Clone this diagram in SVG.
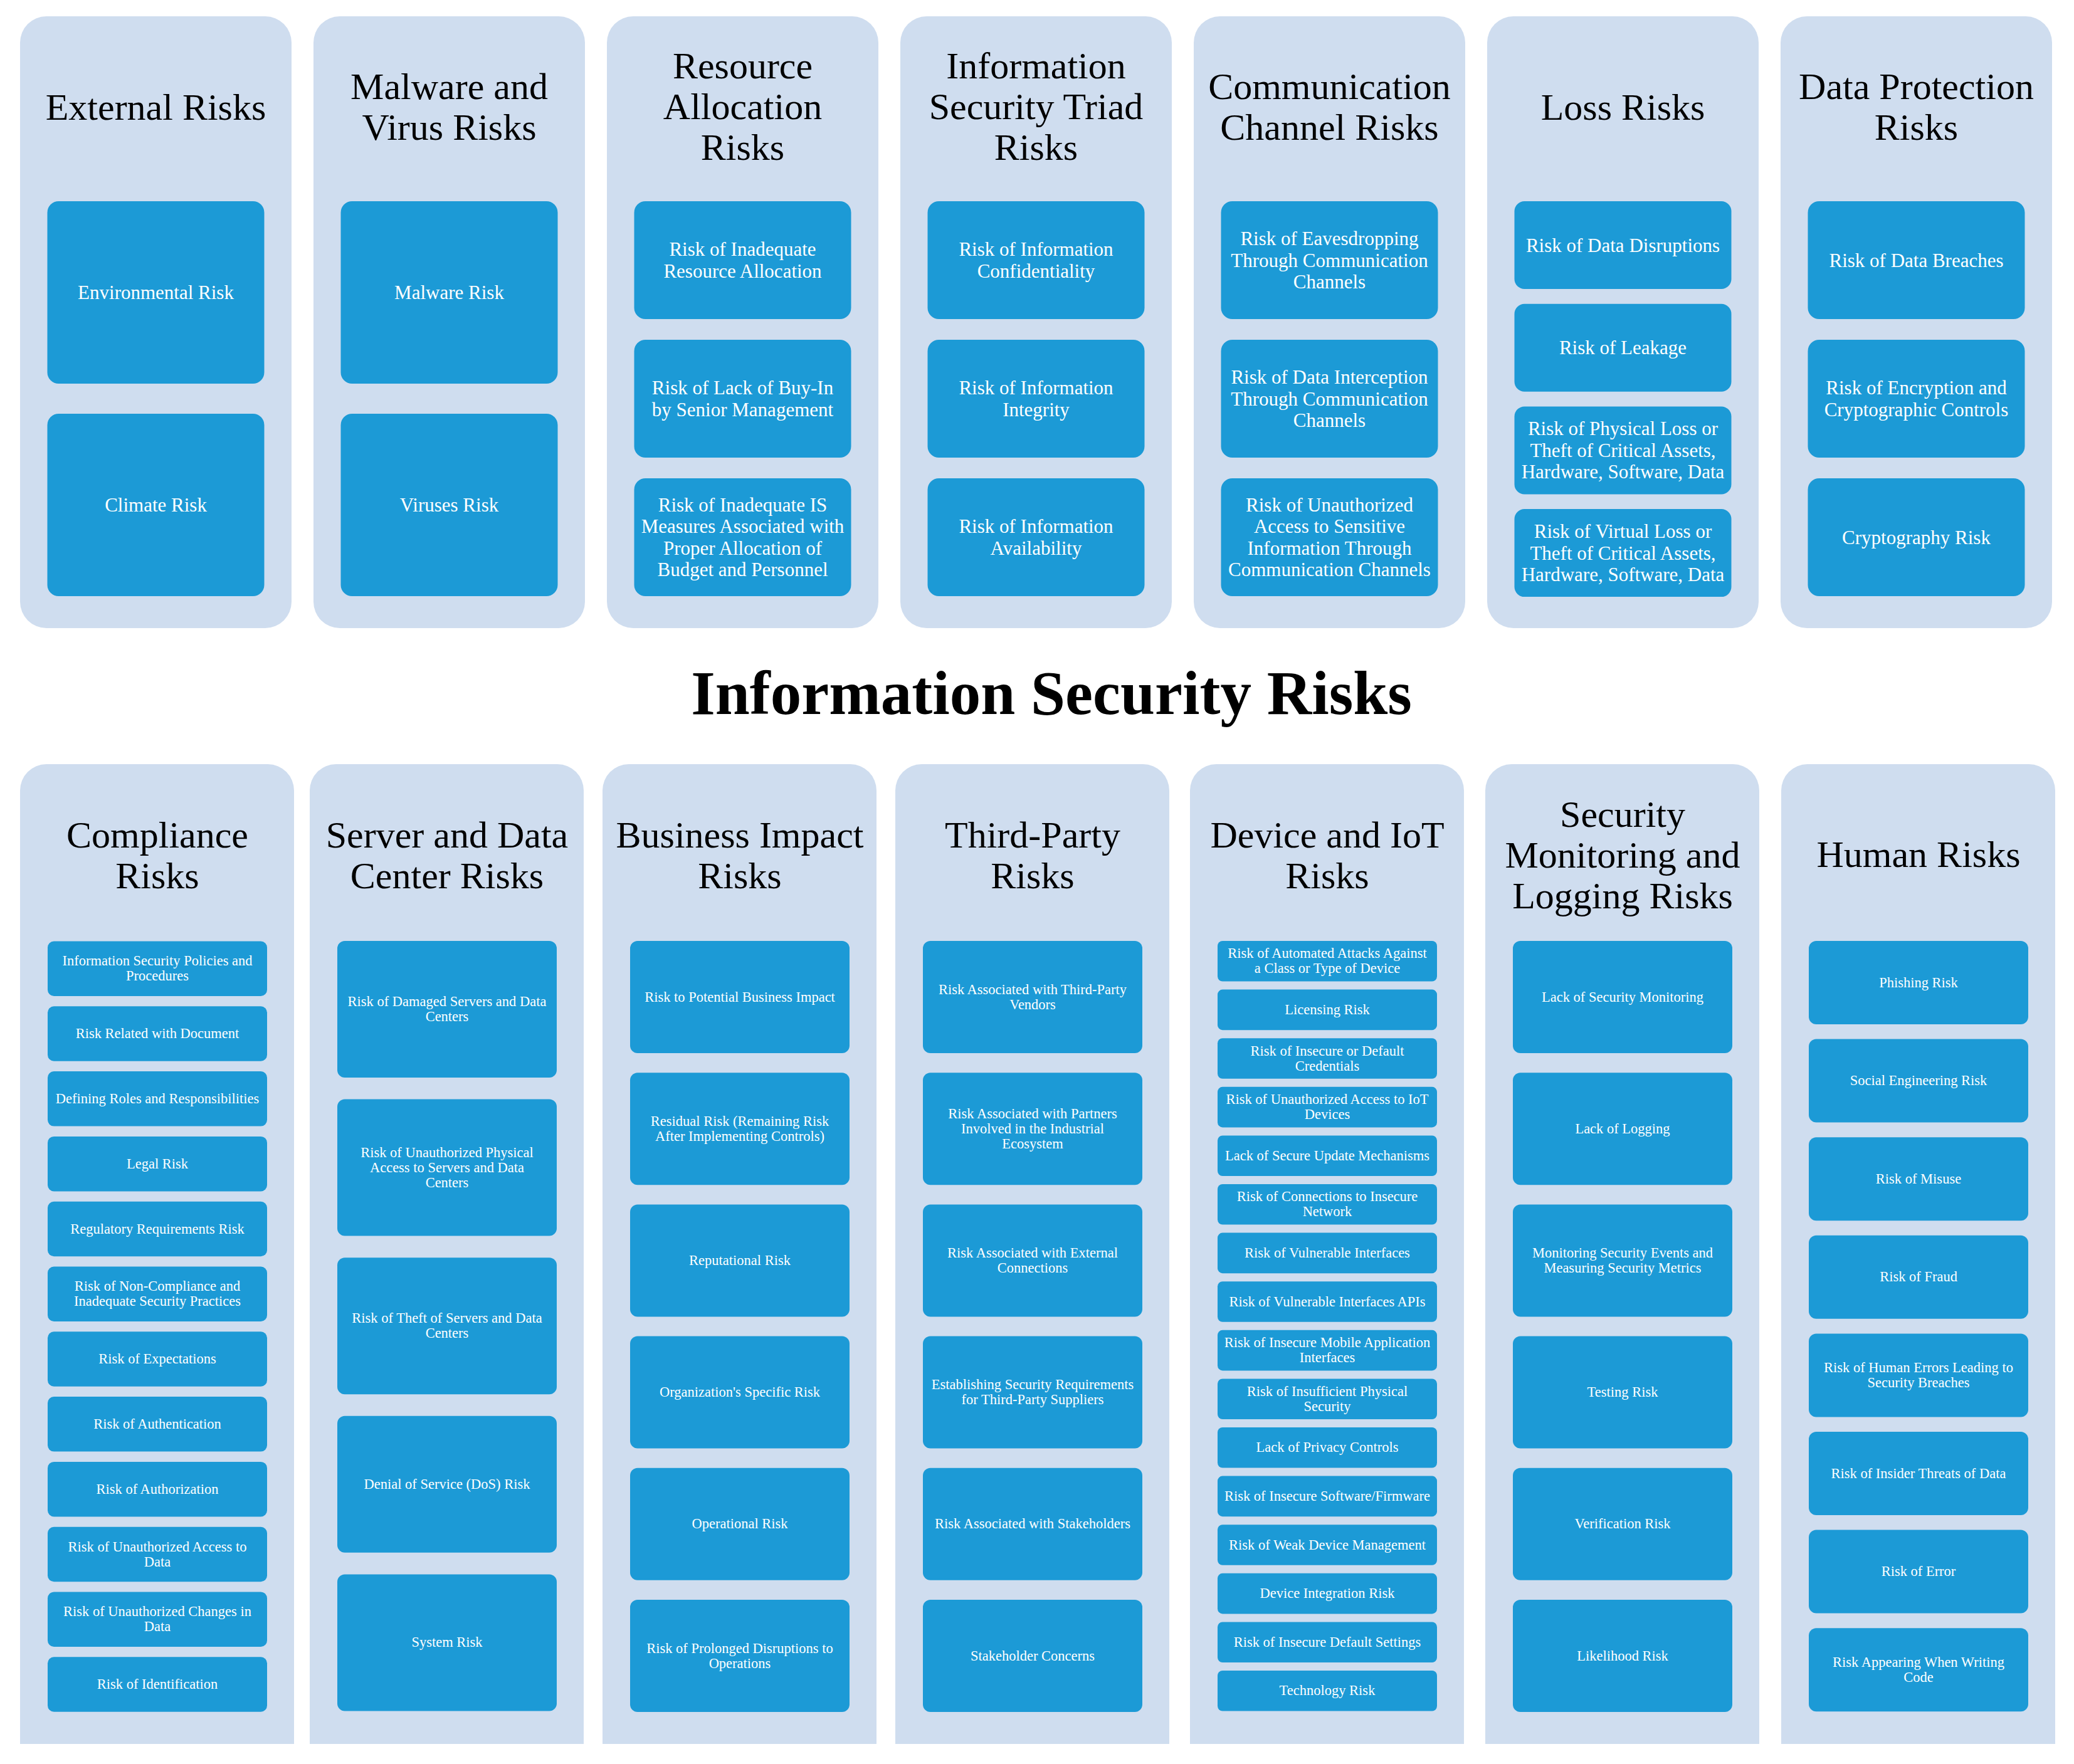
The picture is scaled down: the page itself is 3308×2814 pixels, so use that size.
<svg xmlns="http://www.w3.org/2000/svg" width="3308" height="2814" viewBox="0 0 3308 2814">
<style>
.panel{fill:#CFDDEF}
.box{fill:#1C9AD6}
.ttl{font-family:"Liberation Serif","Times New Roman",serif;font-size:60px;fill:#000;text-anchor:middle}
.tt{font-family:"Liberation Serif","Times New Roman",serif;font-size:31px;fill:#fff;text-anchor:middle}
.bt{font-family:"Liberation Serif","Times New Roman",serif;font-size:22.5px;fill:#fff;text-anchor:middle}
.main{font-family:"Liberation Serif","Times New Roman",serif;font-size:99px;font-weight:bold;fill:#000;text-anchor:middle}
</style>
<rect width="3308" height="2814" fill="#fff"/>
<g id="connectors"/>

<!-- TOP ROW -->
<g id="external-risks">
<rect class="panel" x="32" y="26" width="433" height="976" rx="42"/>
<text class="ttl" x="248.5" y="191">External Risks</text>
<g id="environmental-risk"><rect class="box" x="75.5" y="321" width="346" height="291" rx="18"/><text class="tt" x="248.5" y="477">Environmental Risk</text></g>
<g id="climate-risk"><rect class="box" x="75.5" y="660" width="346" height="291" rx="18"/><text class="tt" x="248.5" y="816">Climate Risk</text></g>
</g>

<g id="malware-virus-risks">
<rect class="panel" x="500" y="26" width="433" height="976" rx="42"/>
<text class="ttl" x="716.5" y="158">Malware and</text>
<text class="ttl" x="716.5" y="223">Virus Risks</text>
<g id="malware-risk"><rect class="box" x="543.5" y="321" width="346" height="291" rx="18"/><text class="tt" x="716.5" y="477">Malware Risk</text></g>
<g id="viruses-risk"><rect class="box" x="543.5" y="660" width="346" height="291" rx="18"/><text class="tt" x="716.5" y="816">Viruses Risk</text></g>
</g>

<g id="resource-allocation-risks">
<rect class="panel" x="968" y="26" width="433" height="976" rx="42"/>
<text class="ttl" x="1184.5" y="125">Resource</text>
<text class="ttl" x="1184.5" y="190">Allocation</text>
<text class="ttl" x="1184.5" y="255">Risks</text>
<g id="ra-1"><rect class="box" x="1011.5" y="321" width="346" height="188" rx="18"/><text class="tt"><tspan x="1184.5" y="408">Risk of Inadequate</tspan><tspan x="1184.5" y="442.5">Resource Allocation</tspan></text></g>
<g id="ra-2"><rect class="box" x="1011.5" y="542" width="346" height="188" rx="18"/><text class="tt"><tspan x="1184.5" y="629.25">Risk of Lack of Buy-In</tspan><tspan x="1184.5" y="663.75">by Senior Management</tspan></text></g>
<g id="ra-3"><rect class="box" x="1011.5" y="763" width="346" height="188" rx="18"/><text class="tt"><tspan x="1184.5" y="815.75">Risk of Inadequate IS</tspan><tspan x="1184.5" y="850.25">Measures Associated with</tspan><tspan x="1184.5" y="884.75">Proper Allocation of</tspan><tspan x="1184.5" y="919.25">Budget and Personnel</tspan></text></g>
</g>

<g id="infosec-triad-risks">
<rect class="panel" x="1436" y="26" width="433" height="976" rx="42"/>
<text class="ttl" x="1652.5" y="125">Information</text>
<text class="ttl" x="1652.5" y="190">Security Triad</text>
<text class="ttl" x="1652.5" y="255">Risks</text>
<g id="ist-1"><rect class="box" x="1479.5" y="321" width="346" height="188" rx="18"/><text class="tt"><tspan x="1652.5" y="408">Risk of Information</tspan><tspan x="1652.5" y="442.5">Confidentiality</tspan></text></g>
<g id="ist-2"><rect class="box" x="1479.5" y="542" width="346" height="188" rx="18"/><text class="tt"><tspan x="1652.5" y="629.25">Risk of Information</tspan><tspan x="1652.5" y="663.75">Integrity</tspan></text></g>
<g id="ist-3"><rect class="box" x="1479.5" y="763" width="346" height="188" rx="18"/><text class="tt"><tspan x="1652.5" y="850.25">Risk of Information</tspan><tspan x="1652.5" y="884.75">Availability</tspan></text></g>
</g>

<g id="communication-channel-risks">
<rect class="panel" x="1904" y="26" width="433" height="976" rx="42"/>
<text class="ttl" x="2120.5" y="158">Communication</text>
<text class="ttl" x="2120.5" y="223">Channel Risks</text>
<g id="cc-1"><rect class="box" x="1947.5" y="321" width="346" height="188" rx="18"/><text class="tt"><tspan x="2120.5" y="391">Risk of Eavesdropping</tspan><tspan x="2120.5" y="425.5">Through Communication</tspan><tspan x="2120.5" y="460">Channels</tspan></text></g>
<g id="cc-2"><rect class="box" x="1947.5" y="542" width="346" height="188" rx="18"/><text class="tt"><tspan x="2120.5" y="612">Risk of Data Interception</tspan><tspan x="2120.5" y="646.5">Through Communication</tspan><tspan x="2120.5" y="681">Channels</tspan></text></g>
<g id="cc-3"><rect class="box" x="1947.5" y="763" width="346" height="188" rx="18"/><text class="tt"><tspan x="2120.5" y="815.75">Risk of Unauthorized</tspan><tspan x="2120.5" y="850.25">Access to Sensitive</tspan><tspan x="2120.5" y="884.75">Information Through</tspan><tspan x="2120.5" y="919.25">Communication Channels</tspan></text></g>
</g>

<g id="loss-risks">
<rect class="panel" x="2372" y="26" width="433" height="976" rx="42"/>
<text class="ttl" x="2588.5" y="191">Loss Risks</text>
<g id="loss-1"><rect class="box" x="2415.5" y="321" width="346" height="140" rx="16"/><text class="tt" x="2588.5" y="401.5">Risk of Data Disruptions</text></g>
<g id="loss-2"><rect class="box" x="2415.5" y="484.7" width="346" height="140" rx="16"/><text class="tt" x="2588.5" y="565.2">Risk of Leakage</text></g>
<g id="loss-3"><rect class="box" x="2415.5" y="648.4" width="346" height="140" rx="16"/><text class="tt"><tspan x="2588.5" y="694.4">Risk of Physical Loss or</tspan><tspan x="2588.5" y="728.9">Theft of Critical Assets,</tspan><tspan x="2588.5" y="763.4">Hardware, Software, Data</tspan></text></g>
<g id="loss-4"><rect class="box" x="2415.5" y="812.1" width="346" height="140" rx="16"/><text class="tt"><tspan x="2588.5" y="858.1">Risk of Virtual Loss or</tspan><tspan x="2588.5" y="892.6">Theft of Critical Assets,</tspan><tspan x="2588.5" y="927.1">Hardware, Software, Data</tspan></text></g>
</g>

<g id="data-protection-risks">
<rect class="panel" x="2840" y="26" width="433" height="976" rx="42"/>
<text class="ttl" x="3056.5" y="158">Data Protection</text>
<text class="ttl" x="3056.5" y="223">Risks</text>
<g id="dp-1"><rect class="box" x="2883.5" y="321" width="346" height="188" rx="18"/><text class="tt" x="3056.5" y="425.5">Risk of Data Breaches</text></g>
<g id="dp-2"><rect class="box" x="2883.5" y="542" width="346" height="188" rx="18"/><text class="tt"><tspan x="3056.5" y="629.25">Risk of Encryption and</tspan><tspan x="3056.5" y="663.75">Cryptographic Controls</tspan></text></g>
<g id="dp-3"><rect class="box" x="2883.5" y="763" width="346" height="188" rx="18"/><text class="tt" x="3056.5" y="867.5">Cryptography Risk</text></g>
</g>

<!-- MAIN TITLE -->
<g id="main-title"><text class="main" x="1677" y="1139">Information Security Risks</text></g>

<!-- BOTTOM ROW -->
<g id="compliance-risks">
<path class="panel" d="M32,2782 V1261 A42,42 0 0 1 74,1219 H427 A42,42 0 0 1 469,1261 V2782 Z"/>
<text class="ttl" x="251" y="1352">Compliance</text>
<text class="ttl" x="251" y="1417">Risks</text>
<g id="cp-1"><rect class="box" x="76" y="1501.5" width="350" height="87.5" rx="10"/><text class="bt"><tspan x="251" y="1540.25">Information Security Policies and</tspan><tspan x="251" y="1564.25">Procedures</tspan></text></g>
<g id="cp-2"><rect class="box" x="76" y="1605.3" width="350" height="87.5" rx="10"/><text class="bt" x="251" y="1656">Risk Related with Document</text></g>
<g id="cp-3"><rect class="box" x="76" y="1709.1" width="350" height="87.5" rx="10"/><text class="bt" x="251" y="1760">Defining Roles and Responsibilities</text></g>
<g id="cp-4"><rect class="box" x="76" y="1812.9" width="350" height="87.5" rx="10"/><text class="bt" x="251" y="1864">Legal Risk</text></g>
<g id="cp-5"><rect class="box" x="76" y="1916.7" width="350" height="87.5" rx="10"/><text class="bt" x="251" y="1967.5">Regulatory Requirements Risk</text></g>
<g id="cp-6"><rect class="box" x="76" y="2020.5" width="350" height="87.5" rx="10"/><text class="bt"><tspan x="251" y="2059.25">Risk of Non-Compliance and</tspan><tspan x="251" y="2083.25">Inadequate Security Practices</tspan></text></g>
<g id="cp-7"><rect class="box" x="76" y="2124.3" width="350" height="87.5" rx="10"/><text class="bt" x="251" y="2175">Risk of Expectations</text></g>
<g id="cp-8"><rect class="box" x="76" y="2228.1" width="350" height="87.5" rx="10"/><text class="bt" x="251" y="2279">Risk of Authentication</text></g>
<g id="cp-9"><rect class="box" x="76" y="2331.9" width="350" height="87.5" rx="10"/><text class="bt" x="251" y="2382.5">Risk of Authorization</text></g>
<g id="cp-10"><rect class="box" x="76" y="2435.7" width="350" height="87.5" rx="10"/><text class="bt"><tspan x="251" y="2474.5">Risk of Unauthorized Access to</tspan><tspan x="251" y="2498.5">Data</tspan></text></g>
<g id="cp-11"><rect class="box" x="76" y="2539.5" width="350" height="87.5" rx="10"/><text class="bt"><tspan x="251" y="2578.25">Risk of Unauthorized Changes in</tspan><tspan x="251" y="2602.25">Data</tspan></text></g>
<g id="cp-12"><rect class="box" x="76" y="2643.3" width="350" height="87.5" rx="10"/><text class="bt" x="251" y="2694">Risk of Identification</text></g>
</g>

<g id="server-datacenter-risks">
<path class="panel" d="M494,2782 V1261 A42,42 0 0 1 536,1219 H889 A42,42 0 0 1 931,1261 V2782 Z"/>
<text class="ttl" x="713" y="1352">Server and Data</text>
<text class="ttl" x="713" y="1417">Center Risks</text>
<g id="sv-1"><rect class="box" x="538" y="1501" width="350" height="218" rx="12"/><text class="bt"><tspan x="713" y="1605">Risk of Damaged Servers and Data</tspan><tspan x="713" y="1629">Centers</tspan></text></g>
<g id="sv-2"><rect class="box" x="538" y="1753.6" width="350" height="218" rx="12"/><text class="bt"><tspan x="713" y="1845.6">Risk of Unauthorized Physical</tspan><tspan x="713" y="1869.6">Access to Servers and Data</tspan><tspan x="713" y="1893.6">Centers</tspan></text></g>
<g id="sv-3"><rect class="box" x="538" y="2006.2" width="350" height="218" rx="12"/><text class="bt"><tspan x="713" y="2110.2">Risk of Theft of Servers and Data</tspan><tspan x="713" y="2134.2">Centers</tspan></text></g>
<g id="sv-4"><rect class="box" x="538" y="2258.8" width="350" height="218" rx="12"/><text class="bt" x="713" y="2374.8">Denial of Service (DoS) Risk</text></g>
<g id="sv-5"><rect class="box" x="538" y="2511.4" width="350" height="218" rx="12"/><text class="bt" x="713" y="2627.4">System Risk</text></g>
</g>

<g id="business-impact-risks">
<path class="panel" d="M961,2782 V1261 A42,42 0 0 1 1003,1219 H1356 A42,42 0 0 1 1398,1261 V2782 Z"/>
<text class="ttl" x="1180" y="1352">Business Impact</text>
<text class="ttl" x="1180" y="1417">Risks</text>
<g id="bi-1"><rect class="box" x="1005" y="1501" width="350" height="179" rx="12"/><text class="bt" x="1180" y="1597.5">Risk to Potential Business Impact</text></g>
<g id="bi-2"><rect class="box" x="1005" y="1711.2" width="350" height="179" rx="12"/><text class="bt"><tspan x="1180" y="1795.7">Residual Risk (Remaining Risk</tspan><tspan x="1180" y="1819.7">After Implementing Controls)</tspan></text></g>
<g id="bi-3"><rect class="box" x="1005" y="1921.4" width="350" height="179" rx="12"/><text class="bt" x="1180" y="2017.9">Reputational Risk</text></g>
<g id="bi-4"><rect class="box" x="1005" y="2131.6" width="350" height="179" rx="12"/><text class="bt" x="1180" y="2228.1">Organization's Specific Risk</text></g>
<g id="bi-5"><rect class="box" x="1005" y="2341.8" width="350" height="179" rx="12"/><text class="bt" x="1180" y="2438.3">Operational Risk</text></g>
<g id="bi-6"><rect class="box" x="1005" y="2552" width="350" height="179" rx="12"/><text class="bt"><tspan x="1180" y="2636.5">Risk of Prolonged Disruptions to</tspan><tspan x="1180" y="2660.5">Operations</tspan></text></g>
</g>

<g id="third-party-risks">
<path class="panel" d="M1428,2782 V1261 A42,42 0 0 1 1470,1219 H1823 A42,42 0 0 1 1865,1261 V2782 Z"/>
<text class="ttl" x="1647" y="1352">Third-Party</text>
<text class="ttl" x="1647" y="1417">Risks</text>
<g id="tp-1"><rect class="box" x="1472" y="1501" width="350" height="179" rx="12"/><text class="bt"><tspan x="1647" y="1585.5">Risk Associated with Third-Party</tspan><tspan x="1647" y="1609.5">Vendors</tspan></text></g>
<g id="tp-2"><rect class="box" x="1472" y="1711.2" width="350" height="179" rx="12"/><text class="bt"><tspan x="1647" y="1783.7">Risk Associated with Partners</tspan><tspan x="1647" y="1807.7">Involved in the Industrial</tspan><tspan x="1647" y="1831.7">Ecosystem</tspan></text></g>
<g id="tp-3"><rect class="box" x="1472" y="1921.4" width="350" height="179" rx="12"/><text class="bt"><tspan x="1647" y="2005.9">Risk Associated with External</tspan><tspan x="1647" y="2029.9">Connections</tspan></text></g>
<g id="tp-4"><rect class="box" x="1472" y="2131.6" width="350" height="179" rx="12"/><text class="bt"><tspan x="1647" y="2216.1">Establishing Security Requirements</tspan><tspan x="1647" y="2240.1">for Third-Party Suppliers</tspan></text></g>
<g id="tp-5"><rect class="box" x="1472" y="2341.8" width="350" height="179" rx="12"/><text class="bt" x="1647" y="2438.3">Risk Associated with Stakeholders</text></g>
<g id="tp-6"><rect class="box" x="1472" y="2552" width="350" height="179" rx="12"/><text class="bt" x="1647" y="2648.5">Stakeholder Concerns</text></g>
</g>

<g id="device-iot-risks">
<path class="panel" d="M1898,2782 V1261 A42,42 0 0 1 1940,1219 H2293 A42,42 0 0 1 2335,1261 V2782 Z"/>
<text class="ttl" x="2117" y="1352">Device and IoT</text>
<text class="ttl" x="2117" y="1417">Risks</text>
<g id="dv-1"><rect class="box" x="1942" y="1501" width="350" height="64.6" rx="8"/><text class="bt"><tspan x="2117" y="1528.3">Risk of Automated Attacks Against</tspan><tspan x="2117" y="1552.3">a Class or Type of Device</tspan></text></g>
<g id="dv-2"><rect class="box" x="1942" y="1578.6" width="350" height="64.6" rx="8"/><text class="bt" x="2117" y="1617.9">Licensing Risk</text></g>
<g id="dv-3"><rect class="box" x="1942" y="1656.2" width="350" height="64.6" rx="8"/><text class="bt"><tspan x="2117" y="1683.5">Risk of Insecure or Default</tspan><tspan x="2117" y="1707.5">Credentials</tspan></text></g>
<g id="dv-4"><rect class="box" x="1942" y="1733.8" width="350" height="64.6" rx="8"/><text class="bt"><tspan x="2117" y="1761.1">Risk of Unauthorized Access to IoT</tspan><tspan x="2117" y="1785.1">Devices</tspan></text></g>
<g id="dv-5"><rect class="box" x="1942" y="1811.4" width="350" height="64.6" rx="8"/><text class="bt" x="2117" y="1850.7">Lack of Secure Update Mechanisms</text></g>
<g id="dv-6"><rect class="box" x="1942" y="1889" width="350" height="64.6" rx="8"/><text class="bt"><tspan x="2117" y="1916.3">Risk of Connections to Insecure</tspan><tspan x="2117" y="1940.3">Network</tspan></text></g>
<g id="dv-7"><rect class="box" x="1942" y="1966.6" width="350" height="64.6" rx="8"/><text class="bt" x="2117" y="2005.9">Risk of Vulnerable Interfaces</text></g>
<g id="dv-8"><rect class="box" x="1942" y="2044.2" width="350" height="64.6" rx="8"/><text class="bt" x="2117" y="2083.5">Risk of Vulnerable Interfaces APIs</text></g>
<g id="dv-9"><rect class="box" x="1942" y="2121.8" width="350" height="64.6" rx="8"/><text class="bt"><tspan x="2117" y="2149.1">Risk of Insecure Mobile Application</tspan><tspan x="2117" y="2173.1">Interfaces</tspan></text></g>
<g id="dv-10"><rect class="box" x="1942" y="2199.4" width="350" height="64.6" rx="8"/><text class="bt"><tspan x="2117" y="2226.7">Risk of Insufficient Physical</tspan><tspan x="2117" y="2250.7">Security</tspan></text></g>
<g id="dv-11"><rect class="box" x="1942" y="2277" width="350" height="64.6" rx="8"/><text class="bt" x="2117" y="2316.3">Lack of Privacy Controls</text></g>
<g id="dv-12"><rect class="box" x="1942" y="2354.6" width="350" height="64.6" rx="8"/><text class="bt" x="2117" y="2393.9">Risk of Insecure Software/Firmware</text></g>
<g id="dv-13"><rect class="box" x="1942" y="2432.2" width="350" height="64.6" rx="8"/><text class="bt" x="2117" y="2471.5">Risk of Weak Device Management</text></g>
<g id="dv-14"><rect class="box" x="1942" y="2509.8" width="350" height="64.6" rx="8"/><text class="bt" x="2117" y="2549.1">Device Integration Risk</text></g>
<g id="dv-15"><rect class="box" x="1942" y="2587.4" width="350" height="64.6" rx="8"/><text class="bt" x="2117" y="2626.7">Risk of Insecure Default Settings</text></g>
<g id="dv-16"><rect class="box" x="1942" y="2665" width="350" height="64.6" rx="8"/><text class="bt" x="2117" y="2704.3">Technology Risk</text></g>
</g>

<g id="security-monitoring-logging-risks">
<path class="panel" d="M2369,2782 V1261 A42,42 0 0 1 2411,1219 H2764 A42,42 0 0 1 2806,1261 V2782 Z"/>
<text class="ttl" x="2588" y="1319">Security</text>
<text class="ttl" x="2588" y="1384">Monitoring and</text>
<text class="ttl" x="2588" y="1449">Logging Risks</text>
<g id="sm-1"><rect class="box" x="2413" y="1501" width="350" height="179" rx="12"/><text class="bt" x="2588" y="1597.5">Lack of Security Monitoring</text></g>
<g id="sm-2"><rect class="box" x="2413" y="1711.2" width="350" height="179" rx="12"/><text class="bt" x="2588" y="1807.7">Lack of Logging</text></g>
<g id="sm-3"><rect class="box" x="2413" y="1921.4" width="350" height="179" rx="12"/><text class="bt"><tspan x="2588" y="2005.9">Monitoring Security Events and</tspan><tspan x="2588" y="2029.9">Measuring Security Metrics</tspan></text></g>
<g id="sm-4"><rect class="box" x="2413" y="2131.6" width="350" height="179" rx="12"/><text class="bt" x="2588" y="2228.1">Testing Risk</text></g>
<g id="sm-5"><rect class="box" x="2413" y="2341.8" width="350" height="179" rx="12"/><text class="bt" x="2588" y="2438.3">Verification Risk</text></g>
<g id="sm-6"><rect class="box" x="2413" y="2552" width="350" height="179" rx="12"/><text class="bt" x="2588" y="2648.5">Likelihood Risk</text></g>
</g>

<g id="human-risks">
<path class="panel" d="M2841,2782 V1261 A42,42 0 0 1 2883,1219 H3236 A42,42 0 0 1 3278,1261 V2782 Z"/>
<text class="ttl" x="3060" y="1383">Human Risks</text>
<g id="hu-1"><rect class="box" x="2885" y="1501" width="350" height="133" rx="12"/><text class="bt" x="3060" y="1574.5">Phishing Risk</text></g>
<g id="hu-2"><rect class="box" x="2885" y="1657.6" width="350" height="133" rx="12"/><text class="bt" x="3060" y="1731.1">Social Engineering Risk</text></g>
<g id="hu-3"><rect class="box" x="2885" y="1814.2" width="350" height="133" rx="12"/><text class="bt" x="3060" y="1887.7">Risk of Misuse</text></g>
<g id="hu-4"><rect class="box" x="2885" y="1970.8" width="350" height="133" rx="12"/><text class="bt" x="3060" y="2044.3">Risk of Fraud</text></g>
<g id="hu-5"><rect class="box" x="2885" y="2127.4" width="350" height="133" rx="12"/><text class="bt"><tspan x="3060" y="2188.9">Risk of Human Errors Leading to</tspan><tspan x="3060" y="2212.9">Security Breaches</tspan></text></g>
<g id="hu-6"><rect class="box" x="2885" y="2284" width="350" height="133" rx="12"/><text class="bt" x="3060" y="2357.5">Risk of Insider Threats of Data</text></g>
<g id="hu-7"><rect class="box" x="2885" y="2440.6" width="350" height="133" rx="12"/><text class="bt" x="3060" y="2514.1">Risk of Error</text></g>
<g id="hu-8"><rect class="box" x="2885" y="2597.2" width="350" height="133" rx="12"/><text class="bt"><tspan x="3060" y="2658.7">Risk Appearing When Writing</tspan><tspan x="3060" y="2682.7">Code</tspan></text></g>
</g>
</svg>
